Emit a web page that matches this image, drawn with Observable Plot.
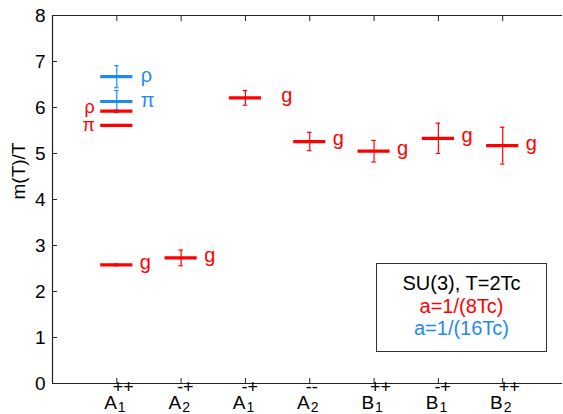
<!DOCTYPE html>
<html>
<head>
<meta charset="utf-8">
<script src="https://cdn.jsdelivr.net/npm/d3@7"></script>
<script src="https://cdn.jsdelivr.net/npm/@observablehq/plot@0.6"></script>
<style>
  body { margin: 0; background: #fff; font-family: "Liberation Sans", Arial, sans-serif; }
  #wrap { position: relative; width: 563px; height: 414px; overflow: hidden; }
  #legend {
    position: absolute; left: 376px; top: 263px; width: 171px; height: 89px;
    border: 1px solid #333; background: #fff; box-sizing: border-box;
    text-align: center; font-size: 20px; line-height: 22.5px; padding-top: 8px;
  }
</style>
</head>
<body>
<div id="wrap"></div>
<script>
// ---- data ----
const categories = ["A1++", "A2-+", "A1-+", "A2--", "B1++", "B1-+", "B2++"];
const tickBase = ["A", "A", "A", "A", "B", "B", "B"];
const tickSub  = ["1", "2", "1", "2", "1", "1", "2"];
const tickSup  = ["++", "-+", "-+", "--", "++", "-+", "++"];
const yTicks = [0, 1, 2, 3, 4, 5, 6, 7, 8];

// a = 1/(8Tc)  (red)
const redCat   = ["A1++", "A1++", "A1++", "A2-+", "A1-+", "A2--", "B1++", "B1-+", "B2++"];
const redState = ["g", "π", "ρ", "g", "g", "g", "g", "g", "g"];
const redMass  = [2.58, 5.61, 5.92, 2.73, 6.21, 5.26, 5.05, 5.33, 5.17];
const redErr   = [0.02, 0.02, 0.02, 0.17, 0.16, 0.20, 0.235, 0.33, 0.40];

// a = 1/(16Tc) (blue)
const blueCat   = ["A1++", "A1++"];
const blueState = ["π", "ρ"];
const blueMass  = [6.13, 6.67];
const blueErr   = [0.24, 0.24];

const legendLines = ["SU(3), T=2Tc", "a=1/(8Tc)", "a=1/(16Tc)"];

// ---- build ----
const RED = "#ff0000";
const BLUE = "#1f8bf2";
const FONT = "Liberation Sans, Arial, sans-serif";
const xPos = new Map(categories.map((c, i) => [c, i + 1]));
const red = redCat.map((c, i) => ({cat: c, x: xPos.get(c), state: redState[i], m: redMass[i], e: redErr[i]}));
const blue = blueCat.map((c, i) => ({cat: c, x: xPos.get(c), state: blueState[i], m: blueMass[i], e: blueErr[i]}));
const ticksX = categories.map((c, i) => i + 1);
const HALF = 0.25, CAP = 0.035;

function series(data, color) {
  return [
    Plot.ruleY(data, {y: "m", x1: d => d.x - HALF, x2: d => d.x + HALF, stroke: color, strokeWidth: 3.2}),
    Plot.ruleX(data, {x: "x", y1: d => d.m - d.e, y2: d => d.m + d.e, stroke: color, strokeWidth: 1.2}),
    Plot.ruleY(data, {y: d => d.m + d.e, x1: d => d.x - CAP, x2: d => d.x + CAP, stroke: color, strokeWidth: 1.2}),
    Plot.ruleY(data, {y: d => d.m - d.e, x1: d => d.x - CAP, x2: d => d.x + CAP, stroke: color, strokeWidth: 1.2})
  ];
}

const chart = Plot.plot({
  width: 563,
  height: 414,
  marginLeft: 52,
  marginRight: 1,
  marginTop: 15,
  marginBottom: 31,
  style: {fontFamily: FONT, fontSize: "19px", background: "#fff", overflow: "visible"},
  x: {domain: [0, 7.93], axis: null},
  y: {domain: [0, 8], axis: null},
  marks: [
    // frame lines
    Plot.ruleX([0], {stroke: "#222", strokeWidth: 1.2}),
    Plot.ruleY([0], {stroke: "#222", strokeWidth: 1.2}),
    Plot.ruleY([8], {stroke: "#222", strokeWidth: 1.2}),
    // axes
    Plot.axisY(yTicks, {anchor: "left", tickSize: 0, tickPadding: 7, fontSize: 19, label: null, fill: "#000"}),
    Plot.axisY(yTicks, {anchor: "left", tickSize: -5, tickFormat: () => "", label: null, stroke: "#222"}),
    Plot.axisX(ticksX, {anchor: "bottom", tickSize: -5, tickFormat: () => "", label: null, stroke: "#222"}),
    Plot.axisX(ticksX, {anchor: "top", tickSize: -5, tickFormat: () => "", label: null, stroke: "#222"}),
    // y label
    Plot.text(["m(T)/T"], {frameAnchor: "left", rotate: -90, dx: -34, fontSize: 19, fill: "#000"}),
    // x tick labels: base, subscript, superscript
    Plot.text(categories, {x: (d, i) => i + 1, frameAnchor: "bottom", lineAnchor: "middle", text: (d, i) => tickBase[i], textAnchor: "end", dx: 0, dy: 19, fontSize: 19, fill: "#000"}),
    Plot.text(categories, {x: (d, i) => i + 1, frameAnchor: "bottom", lineAnchor: "middle", text: (d, i) => tickSub[i], textAnchor: "start", dx: 1, dy: 24, fontSize: 14, fill: "#000"}),
    Plot.text(categories, {x: (d, i) => i + 1, frameAnchor: "bottom", lineAnchor: "middle", text: (d, i) => tickSup[i], textAnchor: "start", dx: -4, dy: 4, fontSize: 18, fill: "#000"}),
    // data
    ...series(blue, BLUE),
    ...series(red, RED),
    // labels
    Plot.text(blue, {x: "x", y: "m", text: "state", textAnchor: "start", dx: 24, dy: -1, fontSize: 20, fill: BLUE}),
    Plot.text(red.filter(d => d.state === "ρ"), {x: "x", y: "m", text: "state", textAnchor: "end", dx: -22, dy: -4, fontSize: 18, fill: RED}),
    Plot.text(red.filter(d => d.state === "π"), {x: "x", y: "m", text: "state", textAnchor: "end", dx: -22, dy: 0, fontSize: 18, fill: RED}),
    Plot.text(red.filter(d => d.state === "g"), {x: d => d.x + (d.cat === "A1-+" ? 0.2 : 0), y: "m", text: "state", textAnchor: "start", dx: 23, dy: -2.5, fontSize: 20, fill: RED})
  ]
});

const wrap = document.getElementById("wrap");
wrap.appendChild(chart);
const legend = document.createElement("div");
legend.id = "legend";
const colors = ["#000", RED, BLUE];
legendLines.forEach((t, i) => {
  const div = document.createElement("div");
  div.textContent = t;
  div.style.color = colors[i];
  legend.appendChild(div);
});
wrap.appendChild(legend);
</script>
</body>
</html>
